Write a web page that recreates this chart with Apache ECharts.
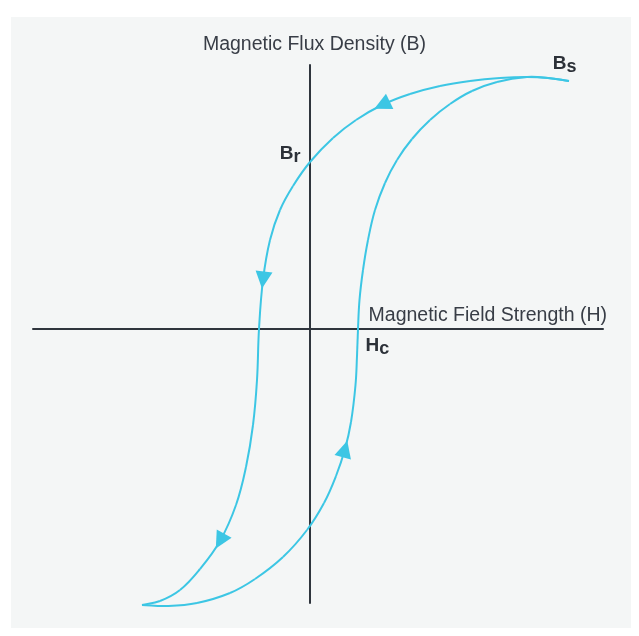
<!DOCTYPE html>
<html>
<head>
<meta charset="utf-8">
<style type="text/css">
body{margin:0; background:#fff}
.panel{position:absolute; left:11px; top:17px; width:620px; height:611px; background:#f4f6f6}
#loop{position:absolute; left:0; top:0; width:639px; height:636px}
</style>
</head>
<body>
<div class="panel"></div>
<div id="loop"></div>
<script src="https://cdn.jsdelivr.net/npm/echarts@6/dist/echarts.min.js"></script>
<script type="text/javascript">
// falling branch: from saturation (Bs) down to negative saturation
var fallingH = [25.9, 23.8, 21.7, 19.0, 16.0, 13.0, 10.0, 7.2, 4.6, 2.3, 0, -1.7, -3.0, -4.0, -4.7, -5.1, -5.3, -5.7, -6.4, -7.4, -9.0, -11.0, -13.0, -15.0, -16.8];
var fallingB = [24.8, 25.1, 25.2, 25.1, 24.8, 24.3, 23.5, 22.4, 20.9, 19.1, 16.7, 14.3, 11.9, 8.9, 4.9, 0, -5.1, -9.6, -13.8, -17.6, -21.2, -24.0, -26.1, -27.2, -27.6];
// rising branch: from negative saturation back up to Bs
var risingH = [-16.8, -14.3, -11.3, -8.0, -5.5, -2.7, -0.3, 1.4, 2.6, 3.5, 4.1, 4.55, 4.7, 4.8, 4.95, 5.3, 5.8, 6.5, 7.5, 8.7, 10.2, 12.0, 14.0, 16.2, 18.7, 21.7, 23.8, 25.9];
var risingB = [-27.6, -27.7, -27.4, -26.4, -25.0, -22.8, -20.1, -17.4, -14.7, -12.0, -9.3, -5.6, -2.7, 0, 2.9, 5.9, 8.9, 11.9, 14.6, 16.9, 19.0, 20.9, 22.5, 23.8, 24.7, 25.2, 25.1, 24.8];
// where the direction arrows sit (indexes into the branches)
var fallingArrows = [7, 14, 20];
var risingArrows = [9];
// indexes of the labelled points
var idxBs = 0, idxBr = 10, idxHc = 13;

var xName = 'Magnetic Field Strength (H)';
var yName = 'Magnetic Flux Density (B)';

var lineColor = '#3cc6e4';
var inkColor = '#2f353d';
var textColor = '#383d46';
var labelColor = '#2c3138';
var SMOOTH = 0.4;

function pairs(h, b){
    var out = [];
    for (var i = 0; i < h.length; i++) out.push([h[i], b[i]]);
    return out;
}

function dist(a, b){
    return Math.sqrt((a[0] - b[0]) * (a[0] - b[0]) + (a[1] - b[1]) * (a[1] - b[1]));
}

// one smooth segment per point (cardinal spline, no clamping)
function branchRenderer(h, b){
    return function(params, api){
        var i = params.dataIndex;
        var n = h.length;
        if (i >= n - 1) return null;
        var p0 = api.coord([h[Math.max(i - 1, 0)], b[Math.max(i - 1, 0)]]);
        var p1 = api.coord([h[i], b[i]]);
        var p2 = api.coord([h[i + 1], b[i + 1]]);
        var p3 = api.coord([h[Math.min(i + 2, n - 1)], b[Math.min(i + 2, n - 1)]]);
        var d01 = dist(p0, p1), d12 = dist(p1, p2), d23 = dist(p2, p3);
        var r1 = d12 / ((d01 + d12) || 1);
        var r2 = d12 / ((d12 + d23) || 1);
        return {
            type: 'bezierCurve',
            shape: {
                x1: p1[0], y1: p1[1],
                x2: p2[0], y2: p2[1],
                cpx1: p1[0] + (p2[0] - p0[0]) * SMOOTH * r1,
                cpy1: p1[1] + (p2[1] - p0[1]) * SMOOTH * r1,
                cpx2: p2[0] - (p3[0] - p1[0]) * SMOOTH * r2,
                cpy2: p2[1] - (p3[1] - p1[1]) * SMOOTH * r2
            },
            style: {stroke: lineColor, lineWidth: 2, fill: null}
        };
    };
}

var chart = echarts.init(document.getElementById('loop'));

var axisCommon = {
    type: 'value',
    axisLine: {onZero: true, lineStyle: {color: inkColor, width: 2}},
    axisTick: {show: false},
    axisLabel: {show: false},
    splitLine: {show: false}
};

var richLabel = {
    m: {fontSize: 19, fontWeight: 'bold', color: labelColor, fontFamily: 'Liberation Sans', lineHeight: 22, verticalAlign: 'top'},
    s: {fontSize: 18, fontWeight: 'bold', color: labelColor, fontFamily: 'Liberation Sans', lineHeight: 22, verticalAlign: 'top', padding: [4, 0, 0, 0]}
};

var option = {
    animation: false,
    backgroundColor: 'transparent',
    grid: {left: 33, right: 36, top: 65, bottom: 33},
    xAxis: Object.assign({}, axisCommon, {
        min: -27.7, max: 29.3,
        name: xName,
        nameLocation: 'end',
        nameGap: 4,
        nameTextStyle: {align: 'right', verticalAlign: 'bottom', padding: [0, 0, 3, 0], fontSize: 19.5, color: textColor, fontFamily: 'Liberation Sans'}
    }),
    yAxis: Object.assign({}, axisCommon, {
        min: -27.4, max: 26.4,
        name: yName,
        nameLocation: 'end',
        nameGap: 10,
        nameTextStyle: {padding: [0, 0, 0, 9], fontSize: 19.5, color: textColor, fontFamily: 'Liberation Sans'}
    }),
    series: [
        {
            name: 'falling',
            type: 'custom',
            data: pairs(fallingH, fallingB),
            renderItem: branchRenderer(fallingH, fallingB),
            silent: true,
            z: 3
        },
        {
            name: 'rising',
            type: 'custom',
            data: pairs(risingH, risingB),
            renderItem: branchRenderer(risingH, risingB),
            silent: true,
            z: 3
        },
        {
            name: 'points',
            type: 'scatter',
            symbolSize: 1,
            itemStyle: {color: 'transparent', opacity: 1},
            silent: true,
            label: {show: true, color: labelColor, fontWeight: 'bold', opacity: 1, rich: richLabel},
            data: [
                {value: [fallingH[idxBs], fallingB[idxBs]], label: {formatter: '{m|B}{s|s}', position: [8, -4], align: 'right', verticalAlign: 'bottom'}},
                {value: [fallingH[idxBr], fallingB[idxBr]], label: {formatter: '{m|B}{s|r}', position: [-9, 5], align: 'right', verticalAlign: 'bottom'}},
                {value: [risingH[idxHc], risingB[idxHc]], label: {formatter: '{m|H}{s|c}', position: [8, 8], align: 'left', verticalAlign: 'top'}}
            ],
            z: 4
        }
    ]
};
chart.setOption(option);

// arrows follow the local direction of the curve
function arrowItems(h, b, idx){
    return idx.map(function(i){
        var a = chart.convertToPixel({gridIndex: 0}, [h[i - 1], b[i - 1]]);
        var c = chart.convertToPixel({gridIndex: 0}, [h[i + 1], b[i + 1]]);
        var ang = Math.atan2(-(c[0] - a[0]), -(c[1] - a[1])) * 180 / Math.PI;
        return {value: [h[i], b[i]], symbolRotate: ang};
    });
}

chart.setOption({
    series: [
        {name: 'falling'}, {name: 'rising'}, {name: 'points'},
        {
            name: 'arrows',
            type: 'scatter',
            symbol: 'triangle',
            symbolSize: [17, 17],
            itemStyle: {color: lineColor, opacity: 1},
            silent: true,
            data: arrowItems(fallingH, fallingB, fallingArrows).concat(arrowItems(risingH, risingB, risingArrows)),
            z: 5
        }
    ]
});
</script>
</body>
</html>
